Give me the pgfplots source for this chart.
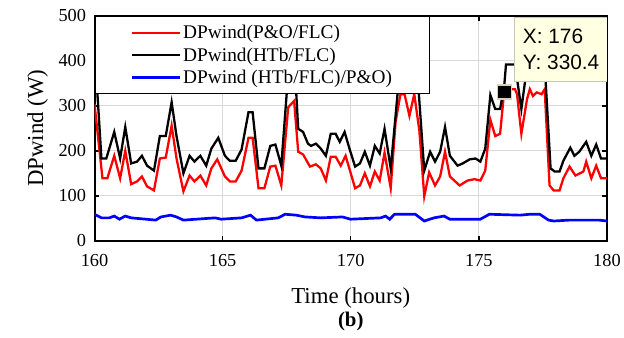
\documentclass[border=0pt]{standalone}
\usepackage{pgfplots}
\pgfplotsset{compat=1.18}
\usepackage{fontspec}
\setmainfont{Liberation Serif}
\newfontfamily\tipfont{Liberation Sans}
\begin{document}
\begin{tikzpicture}
\begin{axis}[
  scale only axis, width=515bp, height=226bp,
  xmin=160, xmax=180, ymin=0, ymax=500,
  xtick={160,165,...,180}, ytick={0,100,...,500},
  grid=major, major grid style={draw=black!15, line width=1bp},
  tick align=inside, major tick length=5bp,
  tick style={black, line width=1.4bp},
  axis line style={line width=2bp},
  /pgf/number format/assume math mode=true,
  tick label style={font=\fontsize{18.5}{20}\selectfont},
  xticklabel style={yshift=-10bp},
  yticklabel style={xshift=-5bp},
  xlabel={Time (hours)}, ylabel={DPwind (W)},
  label style={font=\fontsize{23}{26}\selectfont},
  xlabel style={at={(axis description cs:0.5,-0.255)}, anchor=center},
  ylabel style={at={(axis description cs:-0.111,0.5)}, anchor=center},
  legend style={at={(axis description cs:0,1)}, anchor=north west, draw=black, line width=0.9bp, fill=white,
    inner xsep=36bp, inner ysep=7bp, row sep=3.5bp, font=\fontsize{19.5}{21}\selectfont},
  legend cell align=left,
  legend image code/.code={\draw[#1] (0bp,0bp) -- (48bp,0bp);},
]
\addplot[red, line width=2.3bp] coordinates {
(160.00,304) (160.31,139) (160.50,139) (160.77,189) (161.00,139) (161.20,200) (161.43,126) (161.66,132)
(161.85,143) (162.05,121) (162.32,112) (162.55,183) (162.78,185) (163.01,256) (163.20,183) (163.47,110)
(163.71,145) (163.90,132) (164.13,145) (164.36,123) (164.56,161) (164.79,181) (165.09,143) (165.28,132)
(165.51,132) (165.74,156) (166.01,229) (166.17,229) (166.40,117) (166.63,117) (166.86,165) (167.06,167)
(167.29,123) (167.56,297) (167.79,311) (167.95,198) (168.14,192) (168.41,165) (168.64,170) (168.83,161)
(169.03,134) (169.22,187) (169.41,187) (169.61,167) (169.80,189) (170.17,117) (170.36,123) (170.55,150)
(170.75,121) (170.94,154) (171.13,134) (171.32,196) (171.56,117) (171.75,264) (171.94,326) (172.10,326)
(172.29,278) (172.48,326) (172.68,244) (172.87,99) (173.06,152) (173.29,123) (173.49,143) (173.68,198)
(173.87,143) (174.25,123) (174.56,134) (174.83,137) (175.06,134) (175.25,156) (175.45,269) (175.64,233)
(175.83,238) (175.99,333) (176.06,337) (176.41,337) (176.49,326) (176.66,238) (176.88,315) (176.99,337)
(177.11,322) (177.26,330) (177.45,326) (177.57,337) (177.76,123) (177.92,112) (178.15,112) (178.30,139)
(178.54,165) (178.77,145) (179.08,154) (179.19,176) (179.39,139) (179.58,167) (179.77,139) (180.00,139)
};
\addlegendentry{DPwind(P\&O/FLC)}
\addplot[black, line width=2.3bp] coordinates {
(160.00,430) (160.27,183) (160.46,183) (160.77,242) (161.00,183) (161.20,253) (161.43,172) (161.66,176)
(161.85,189) (162.05,167) (162.32,156) (162.55,233) (162.78,233) (163.01,308) (163.20,233) (163.47,150)
(163.71,189) (163.90,176) (164.13,189) (164.36,167) (164.56,205) (164.83,229) (165.09,189) (165.28,178)
(165.51,178) (165.74,203) (166.01,286) (166.17,286) (166.40,161) (166.63,161) (166.86,211) (167.06,214)
(167.29,167) (167.60,403) (167.79,414) (167.95,249) (168.14,242) (168.33,216) (168.45,211) (168.64,216)
(168.83,205) (169.03,189) (169.22,238) (169.41,238) (169.57,220) (169.76,242) (169.95,205) (170.17,165)
(170.36,172) (170.55,198) (170.75,167) (170.94,211) (171.13,194) (171.32,249) (171.56,161) (171.75,278)
(171.94,399) (172.13,403) (172.29,348) (172.48,403) (172.58,390) (172.87,156) (173.10,198) (173.29,176)
(173.49,198) (173.68,253) (173.87,189) (174.17,167) (174.37,172) (174.64,181) (174.87,183) (175.06,176)
(175.25,205) (175.45,324) (175.64,293) (175.83,293) (175.99,344) (176.06,392) (176.41,392) (176.66,293)
(176.84,370) (176.99,392) (177.57,392) (177.80,161) (177.96,154) (178.15,154) (178.30,178) (178.57,207)
(178.73,189) (178.92,198) (179.19,220) (179.39,189) (179.58,214) (179.77,183) (180.00,183)
};
\addlegendentry{DPwind(HTb/FLC)}
\addplot[blue, line width=2.7bp] coordinates {
(160.00,59) (160.27,51) (160.58,51) (160.77,55) (160.97,48) (161.20,55) (161.43,51) (162.39,46)
(162.59,53) (162.97,57) (163.20,53) (163.47,46) (164.71,51) (164.94,48) (165.74,51) (166.09,57)
(166.32,46) (167.17,51) (167.44,59) (167.87,57) (168.22,53) (168.83,51) (169.68,53) (169.99,48)
(171.17,51) (171.36,55) (171.52,48) (171.71,59) (172.52,59) (172.87,44) (173.25,51) (173.64,55)
(173.87,48) (175.06,48) (175.41,59) (176.61,57) (176.99,59) (177.38,59) (177.72,46) (177.92,44)
(178.54,46) (179.69,46) (180.00,44)
};
\addlegendentry{DPwind (HTb/FLC)/P\&O)}
\addplot[only marks, mark=square*, mark size=7bp, forget plot,
  mark options={fill=black, draw={rgb,255:red,215;green,210;blue,185}, line width=1.6bp}]
  coordinates {(176,330.4)};
\node[anchor=north west, draw={rgb,255:red,200;green,200;blue,185}, line width=0.8bp,
  fill={rgb,255:red,255;green,255;blue,225}, minimum width=93bp, minimum height=65bp,
  align=left, font=\tipfont\fontsize{21}{26}\selectfont]
  at (axis cs:176.39,498) {X: 176\\Y: 330.4};
\coordinate (bpos) at (axis description cs:0.5,-0.358);
\coordinate (bbsw) at (axis description cs:-0.18447,-0.4292);
\coordinate (bbne) at (axis description cs:1.02718,1.0708);
\end{axis}
\node[font=\bfseries\fontsize{21}{24}\selectfont] at (bpos) {(b)};
\path (bbsw) rectangle (bbne);
\end{tikzpicture}
\end{document}
